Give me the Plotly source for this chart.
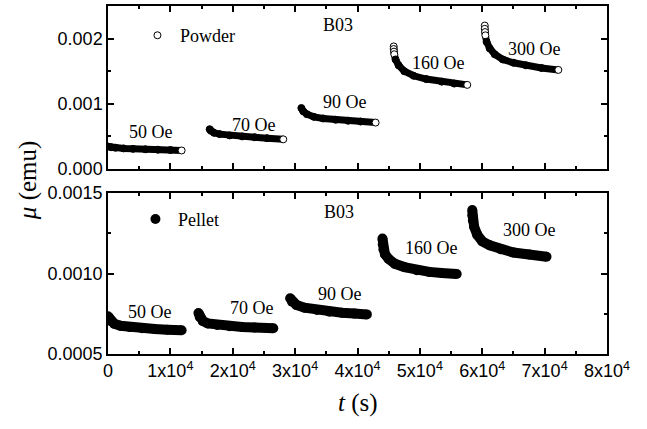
import plotly.graph_objects as go

# ---------------- data ----------------
fields = ["50 Oe", "70 Oe", "90 Oe", "160 Oe", "300 Oe"]

powder_t = [
    [0, 500, 1200, 2500, 4000, 6000, 8000, 10000, 11800],
    [16300, 16500, 17000, 17900, 19500, 21500, 23500, 25500, 28100],
    [31000, 31300, 31900, 33000, 34500, 36500, 38500, 40500, 42900],
    [45800, 45800, 45850, 45900, 46100, 46600, 47500, 49000, 51000, 53500, 55500, 57600],
    [60400, 60400, 60450, 60500, 60700, 61200, 62000, 63300, 65000, 67000, 69500, 72200],
]
powder_mu = [
    [0.000345, 0.000334, 0.000325, 0.000316, 0.000309, 0.000302, 0.000296, 0.000291, 0.000284],
    [0.000610, 0.000585, 0.000555, 0.000535, 0.000515, 0.000500, 0.000488, 0.000473, 0.000455],
    [0.000935, 0.000885, 0.000840, 0.000800, 0.000775, 0.000755, 0.000740, 0.000728, 0.000712],
    [0.00188, 0.00184, 0.00180, 0.00176, 0.00168, 0.00159, 0.00150, 0.00143, 0.00138, 0.00134, 0.00131, 0.00129],
    [0.00220, 0.00215, 0.00210, 0.00205, 0.00195, 0.00185, 0.00176, 0.00168, 0.00163, 0.00159, 0.00155, 0.00152],
]
# number of hollow circles still visible at the start of each powder run
powder_open_start = [0, 0, 0, 4, 4]

pellet_t = [
    [0, 400, 1000, 2000, 3500, 5500, 7500, 9500, 11800],
    [14500, 14700, 15200, 16000, 17500, 19500, 21500, 23500, 26500],
    [29200, 29500, 30200, 31500, 33500, 35500, 37500, 39500, 41500],
    [44000, 44050, 44150, 44400, 45000, 46000, 47500, 49500, 51500, 53500, 55900],
    [58400, 58400, 58500, 58700, 59200, 60000, 61200, 63000, 65000, 67500, 70300],
]
pellet_mu = [
    [0.000735, 0.000705, 0.000688, 0.000675, 0.000667, 0.000660, 0.000655, 0.000651, 0.000648],
    [0.000755, 0.000730, 0.000705, 0.000690, 0.000680, 0.000673, 0.000668, 0.000664, 0.000660],
    [0.000846, 0.000825, 0.000805, 0.000788, 0.000773, 0.000763, 0.000756, 0.000751, 0.000746],
    [0.001218, 0.00118, 0.00115, 0.00112, 0.00109, 0.00106, 0.00104, 0.00102, 0.00101, 0.001003, 0.000997],
    [0.001394, 0.00136, 0.00133, 0.00129, 0.00124, 0.00120, 0.001175, 0.00115, 0.00113, 0.001118, 0.001104],
]

x_tickvals = [0, 10000, 20000, 30000, 40000, 50000, 60000, 70000, 80000]
x_ticktext = ["0"] + [f"{i}x10<sup>4</sup>" for i in range(1, 9)]
top_y_tickvals = [0.0, 0.001, 0.002]
top_y_ticktext = ["0.000", "0.001", "0.002"]
bot_y_tickvals = [0.0005, 0.0010, 0.0015]
bot_y_ticktext = ["0.0005", "0.0010", "0.0015"]

# label positions (data coordinates)
powder_label_x = [6900, 23400, 38000, 53000, 68300]
powder_label_y = [0.000569, 0.000677, 0.00103, 0.00163, 0.001846]
pellet_label_x = [6700, 23100, 37200, 51900, 67600]
pellet_label_y = [0.000763, 0.000786, 0.000873, 0.001158, 0.00127]

SERIF = "Liberation Serif, Times New Roman, serif"
SANS = "Liberation Sans, Arial, sans-serif"

fig = go.Figure()

# powder: open circles (dense -> black band, last point shows open)
for i in range(len(fields)):
    n = len(powder_t[i])
    fills = ["white" if (k == n - 1 or k < powder_open_start[i]) else "black" for k in range(n)]
    fig.add_trace(go.Scatter(
        x=powder_t[i], y=powder_mu[i], mode="lines+markers",
        line=dict(color="black", width=7),
        marker=dict(symbol="circle", size=7, color=fills, line=dict(color="black", width=1)),
        xaxis="x", yaxis="y", showlegend=False, hoverinfo="skip"))

# pellet: filled circles
for i in range(len(fields)):
    fig.add_trace(go.Scatter(
        x=pellet_t[i], y=pellet_mu[i], mode="lines+markers",
        line=dict(color="black", width=10),
        marker=dict(symbol="circle", size=10, color="black"),
        xaxis="x2", yaxis="y2", showlegend=False, hoverinfo="skip"))

# legend entries
fig.add_trace(go.Scatter(x=[None], y=[None], mode="markers", name="Powder",
                         marker=dict(symbol="circle", size=7, color="white", line=dict(color="black", width=1)),
                         xaxis="x", yaxis="y", legend="legend"))
fig.add_trace(go.Scatter(x=[None], y=[None], mode="markers", name="Pellet",
                         marker=dict(symbol="circle", size=10, color="black"),
                         xaxis="x2", yaxis="y2", legend="legend2"))

annotations = []
for i, f in enumerate(fields):
    annotations.append(dict(x=powder_label_x[i], y=powder_label_y[i], xref="x", yref="y", text=f,
                            showarrow=False, font=dict(family=SERIF, size=18, color="black")))
    annotations.append(dict(x=pellet_label_x[i], y=pellet_label_y[i], xref="x2", yref="y2", text=f,
                            showarrow=False, font=dict(family=SERIF, size=18, color="black")))
annotations.append(dict(x=0.461, y=0.9454, xref="paper", yref="paper", text="B03", showarrow=False,
                        xanchor="center", yanchor="middle",
                        font=dict(family=SERIF, size=18, color="black")))
annotations.append(dict(x=0.463, y=0.408, xref="paper", yref="paper", text="B03", showarrow=False,
                        xanchor="center", yanchor="middle",
                        font=dict(family=SERIF, size=18, color="black")))
annotations.append(dict(x=0.5, y=-0.141, xref="paper", yref="paper", text="<i>t</i> (s)", showarrow=False,
                        xanchor="center", yanchor="middle", font=dict(family=SERIF, size=25, color="black")))
annotations.append(dict(x=-0.160, y=0.5, xref="paper", yref="paper", text="<i>μ</i> (emu)", showarrow=False,
                        textangle=-90, xanchor="center", yanchor="middle",
                        font=dict(family=SERIF, size=25, color="black")))

axis_common = dict(showline=True, linewidth=1.5, linecolor="black", mirror="ticks",
                   ticks="inside", ticklen=6, tickwidth=1.5, tickcolor="black",
                   showgrid=False, zeroline=False, automargin=False,
                   tickfont=dict(family=SANS, size=18, color="black"))

fig.update_layout(
    width=647, height=429,
    margin=dict(l=108, r=40, t=6, b=75, autoexpand=False),
    paper_bgcolor="white", plot_bgcolor="white",
    xaxis=dict(domain=[0, 1], anchor="y", range=[0, 80000], tickmode="array",
               tickvals=x_tickvals, showticklabels=False,
               minor=dict(dtick=5000, ticks="inside", ticklen=3.5, tickwidth=1.5, tickcolor="black"),
               **axis_common),
    yaxis=dict(domain=[0.5316, 1], anchor="x", range=[0, 0.0025], tickmode="array",
               tickvals=top_y_tickvals, ticktext=top_y_ticktext,
               minor=dict(dtick=0.0005, tick0=0, ticks="inside", ticklen=3.5, tickwidth=1.5, tickcolor="black"),
               **axis_common),
    xaxis2=dict(domain=[0, 1], anchor="y2", range=[0, 80000], tickmode="array",
                tickvals=x_tickvals, ticktext=x_ticktext,
                minor=dict(dtick=5000, ticks="inside", ticklen=3.5, tickwidth=1.5, tickcolor="black"),
                **axis_common),
    yaxis2=dict(domain=[0, 0.4626], anchor="x2", range=[0.0005, 0.0015], tickmode="array",
                tickvals=bot_y_tickvals, ticktext=bot_y_ticktext,
                minor=dict(dtick=0.00025, tick0=0.0005, ticks="inside", ticklen=3.5, tickwidth=1.5, tickcolor="black"),
                **axis_common),
    legend=dict(x=0.054, y=0.915, xanchor="left", yanchor="middle", bgcolor="rgba(0,0,0,0)",
                itemwidth=35, font=dict(family=SERIF, size=18, color="black")),
    legend2=dict(x=0.050, y=0.387, xanchor="left", yanchor="middle", bgcolor="rgba(0,0,0,0)",
                 itemwidth=35, font=dict(family=SERIF, size=18, color="black")),
    annotations=annotations,
    showlegend=True,
)

fig.write_html("out.html", config={"displayModeBar": False},
               post_script="document.body.style.margin='0';document.body.style.padding='0';")
